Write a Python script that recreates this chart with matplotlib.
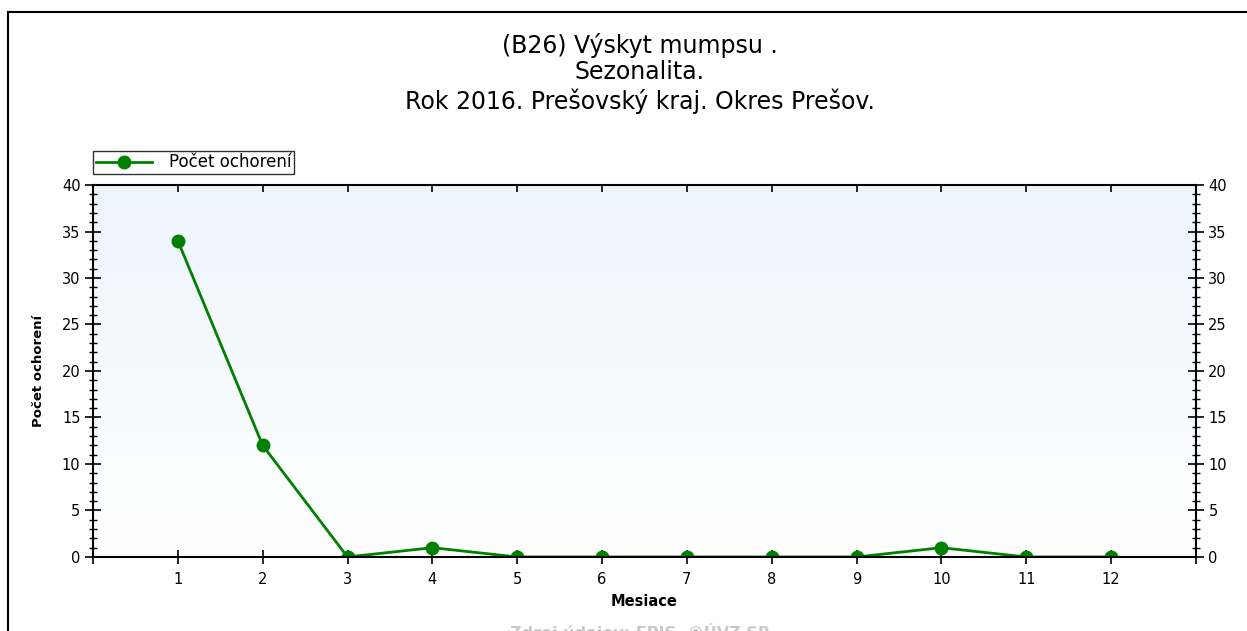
import numpy as np
from matplotlib import pyplot as plt
from matplotlib.ticker import MultipleLocator
from matplotlib.lines import Line2D

# data
months = [1, 2, 3, 4, 5, 6, 7, 8, 9, 10, 11, 12]
cases = [34, 12, 0, 1, 0, 0, 0, 0, 0, 1, 0, 0]
title_lines = ["(B26) Výskyt mumpsu .", "Sezonalita.", "Rok 2016. Prešovský kraj. Okres Prešov."]
series_name = "Počet ochorení"

plt.rcParams['font.family'] = ['DejaVu Sans']

fig = plt.figure(figsize=(12.47, 6.31), dpi=100)
ax = fig.add_axes([0.0746, 0.1173, 0.959 - 0.0746, 0.7068 - 0.1173])

# frame around the picture (left + top)
fig.add_artist(Line2D([8/1247, 8/1247], [0, 1 - 12/631], color='black', lw=1.5,
                      transform=fig.transFigure))
fig.add_artist(Line2D([8/1247, 1], [1 - 12/631, 1 - 12/631], color='black', lw=1.5,
                      transform=fig.transFigure))

# gradient background
grad = np.linspace(0, 1, 256).reshape(-1, 1)
top = np.array([0.93, 0.96, 0.995])
bot = np.array([1.0, 1.0, 1.0])
img = bot + (top - bot) * grad
ax.imshow(img[:, None, :].repeat(2, axis=1), extent=[0, 13, 0, 40], origin='lower',
          aspect='auto', zorder=0)

ax.plot(months, cases, color='#008000', lw=2, marker='o', markersize=9,
        zorder=3, clip_on=True)

ax.set_xlim(0, 13)
ax.set_ylim(0, 40)
ax.set_xticks(range(0, 14))
ax.set_xticklabels([''] + [str(m) for m in months] + [''])
ax.yaxis.set_major_locator(MultipleLocator(5))
ax.yaxis.set_minor_locator(MultipleLocator(1))

for s in ax.spines.values():
    s.set_linewidth(1.5)
    s.set_zorder(4)

ax.tick_params(axis='y', which='major', direction='inout', length=12, width=1.2,
               left=True, right=True, labelleft=True, labelright=True, labelsize=10.5,
               pad=3)
ax.tick_params(axis='y', which='minor', direction='inout', length=6, width=1,
               left=True, right=True)
ax.tick_params(axis='x', which='major', direction='inout', length=10, width=1.2,
               top=False, bottom=True, labelsize=10.5, pad=6)

# top axis ticks pointing inward only
sec = ax.secondary_xaxis('top')
sec.set_xticks(range(1, 13))
sec.tick_params(direction='in', length=5, width=1.2, labeltop=False)
sec.spines['top'].set_visible(False)

ax.set_xlabel("Mesiace", fontsize=10.5, fontweight='bold', labelpad=5)
ax.set_ylabel(series_name, fontsize=9.5, fontweight='bold', labelpad=12)

fig.text(0.513, 1 - 45/631, title_lines[0], ha='center', va='center', fontsize=17)
fig.text(0.513, 1 - 72/631, title_lines[1], ha='center', va='center', fontsize=17)
fig.text(0.513, 1 - 101/631, title_lines[2], ha='center', va='center', fontsize=17)

leg = ax.legend([Line2D([], [], color='#008000', lw=2, marker='o', markersize=9)],
                [series_name], loc='lower left', bbox_to_anchor=(0.0, 1.03),
                frameon=True, fancybox=False, fontsize=12, borderpad=0.15,
                handlelength=3.4, handletextpad=1.0, borderaxespad=0)
leg.get_frame().set_edgecolor('black')
leg.get_frame().set_linewidth(1)

fig.text(0.513, 1 - 632/631, "Zdroj údajov: EPIS, ©ÚVZ SR", ha='center', va='center',
         fontsize=11.5, color='#c8c8c8', fontweight='bold')

fig.savefig('out.png', dpi=100)
